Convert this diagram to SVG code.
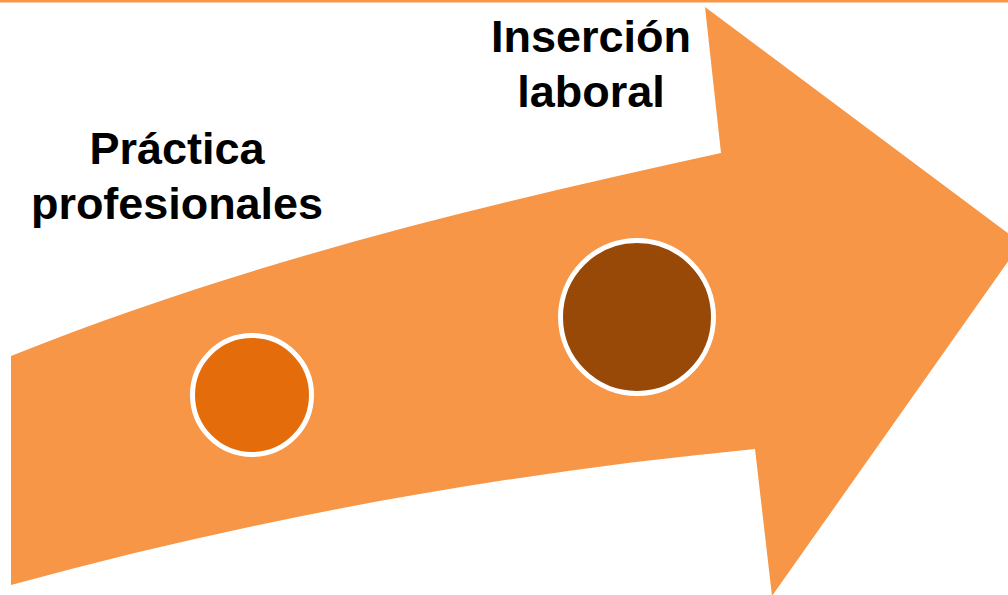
<svg xmlns="http://www.w3.org/2000/svg" width="1008" height="595" viewBox="0 0 1008 595">
<style>
.lbl{font-family:"Liberation Sans",Arial,sans-serif;font-weight:bold;font-size:45px;fill:#000;text-anchor:middle}
.dot{stroke:#fff;stroke-width:5}
</style>
<rect x="0" y="0" width="1008" height="595" fill="#fff"/>
<rect x="0" y="0" width="1008" height="2.5" fill="#F79646"/>
<g id="arrow">
<path d="M11,356 C248,261 484,205 721,153 L705,7 L1021,243 L772,596 L755,449 C507,473 259,517 11,585 Z" fill="#F79646"/>
</g>
<g id="practica">
<circle class="dot" cx="252" cy="395" r="59.5" fill="#E46C0A"/>
<text class="lbl" x="177" y="164">Práctica</text>
<text class="lbl" x="177" y="219" textLength="292" lengthAdjust="spacing">profesionales</text>
</g>
<g id="insercion">
<circle class="dot" cx="637" cy="317" r="76.5" fill="#984807"/>
<text class="lbl" x="591" y="52">Inserción</text>
<text class="lbl" x="591" y="107">laboral</text>
</g>
<g id="connectors"></g>
</svg>
